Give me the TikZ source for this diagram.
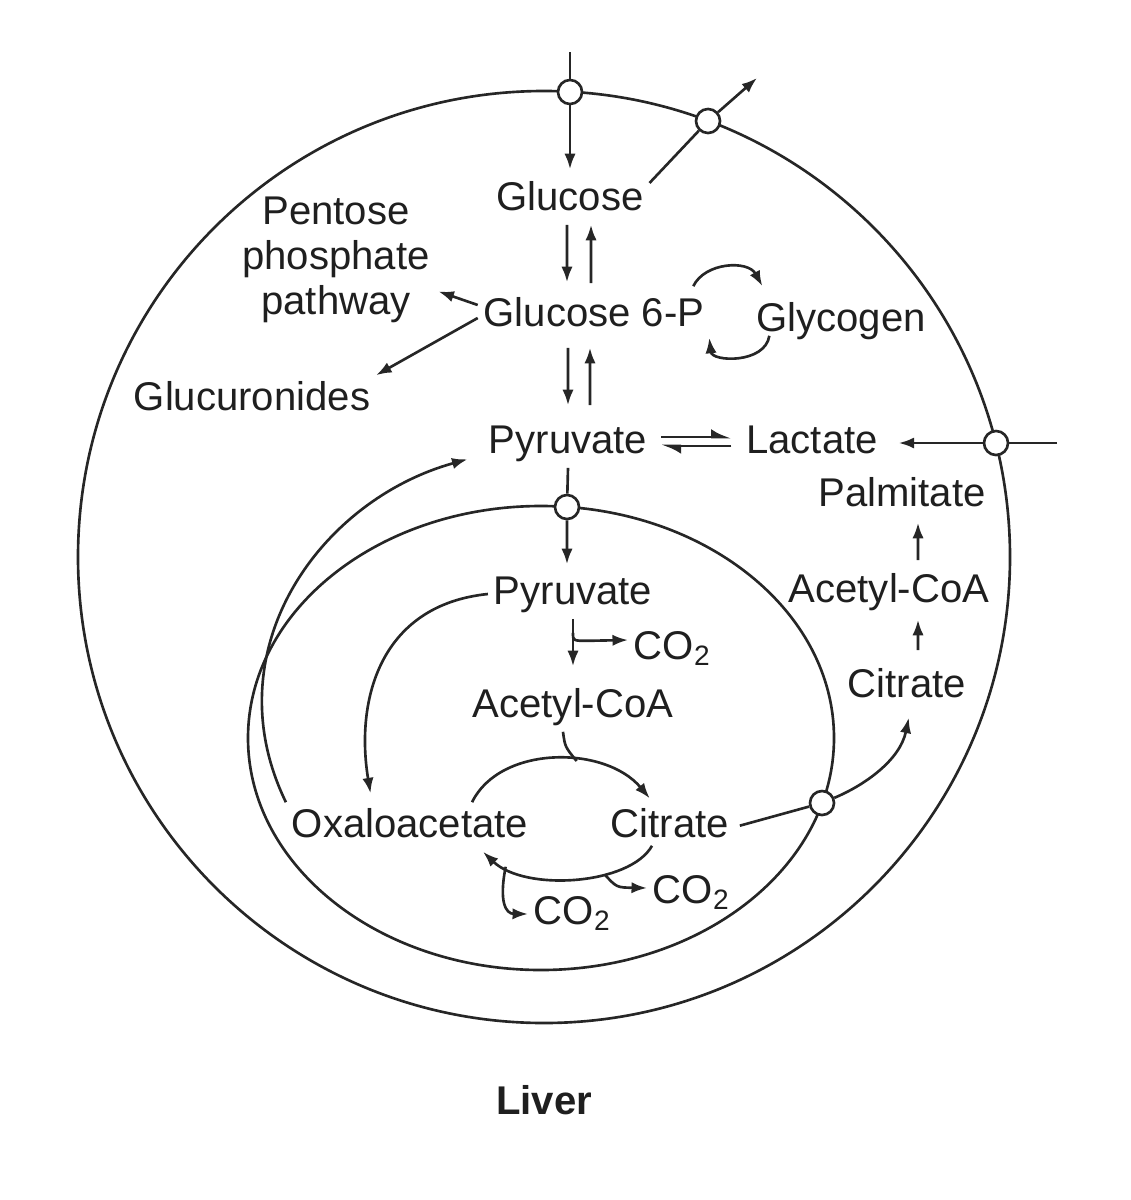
\documentclass[tikz,border=0pt]{standalone}
\usepackage{fontspec}
\setmainfont{Liberation Sans}
\usetikzlibrary{arrows.meta,positioning}
\tikzset{
    metab-text/.style = {font=\fontsize{11.4}{12.8}\selectfont, text=black!88, inner sep=1.5pt},
    metab-label/.style = {metab-text, text height=8.3pt, text depth=2.4pt},
    carrier-dot/.style = {draw=black!85, fill=white, circle, line width=0.75pt, minimum size=2.4mm, inner sep=0pt},
    membrane/.style = {draw=black!85, line width=0.75pt},
    flow-line/.style = {draw=black!85, line width=0.75pt},
    flow-arrow/.style = {flow-line, -{Latex[length=4.4pt, width=3.2pt]}},
    half-arrow/.style = {flow-line, -{Latex[harpoon, length=4.6pt, width=4.6pt]}},
}

\begin{document}
\begin{tikzpicture}[x=0.01cm, y=-0.01cm]
\useasboundingbox (0,0) rectangle (1130,1200);
\draw[membrane] (544,557) circle [radius=466];
\draw[membrane] (541,738) ellipse [x radius=293, y radius=232];

\node[carrier-dot] (pm-glc-in) at (570,92) {};
\node[carrier-dot] (pm-glc-out) at (708,121) {};
\node[carrier-dot] (pm-lac) at (996,443) {};
\node[carrier-dot] (mm-pyr) at (567,507) {};
\node[carrier-dot] (mm-cit) at (822,803) {};

\node[metab-label] (glc) at (570,200) {Glucose};
\node[metab-label] (g6p) at (594,316) {Glucose 6-P};
\node[metab-label] (glycogen) at (841,321) {Glycogen};
\node[metab-text, align=center] (ppp) at (336,260) {Pentose\\phosphate\\pathway};
\node[metab-label] (glcur) at (252,400) {Glucuronides};
\node[metab-label] (pyr-cyt) at (568,443) {Pyruvate};
\node[metab-label] (lac) at (812,443) {Lactate};
\node[metab-label] (palm) at (902,496) {Palmitate};
\node[metab-label] (acoa-cyt) at (889,592) {Acetyl-CoA};
\node[metab-label] (cit-cyt) at (907,687) {Citrate};
\node[metab-label] (pyr-mit) at (573,594) {Pyruvate};
\node[metab-label, anchor=west] (co2-pdh) at (628,649) {CO\textsubscript{2}};
\node[metab-label] (acoa-mit) at (573,707) {Acetyl-CoA};
\node[metab-label] (oaa) at (410,827) {Oxaloacetate};
\node[metab-label] (cit-mit) at (670,827) {Citrate};
\node[metab-label, anchor=west] (co2-a) at (647,893) {CO\textsubscript{2}};
\node[metab-label, anchor=west] (co2-b) at (528,914) {CO\textsubscript{2}};
\node[metab-label, font=\fontsize{11.4}{12.8}\selectfont\bfseries] (liver) at (544,1104) {Liver};

\coordinate (glc-in) at (570,52);
\coordinate (glc-out) at (757,78);
\coordinate (lac-in) at (1057,443);
\draw[flow-line] (glc-in) -- (pm-glc-in);
\draw[flow-arrow, shorten >=0.06cm] (pm-glc-in) -- (glc.north);
\draw[flow-line] ([yshift=0.17cm]glc.east) -- (pm-glc-out);
\draw[flow-arrow] (pm-glc-out) -- (glc-out);

\draw[flow-arrow, shorten >=0.09cm] ([xshift=-0.03cm]glc.south) -- ([xshift=-0.27cm]g6p.north);
\draw[flow-arrow, shorten <=0.08cm] ([xshift=-0.03cm]g6p.north) -- ([xshift=0.21cm]glc.south);
\draw[flow-arrow, shorten <=0.07cm, shorten >=0.13cm] ([xshift=-0.26cm]g6p.south) -- (pyr-cyt.north);
\draw[flow-arrow, shorten <=0.13cm, shorten >=0.07cm] ([xshift=0.22cm]pyr-cyt.north) -- ([xshift=-0.04cm]g6p.south);

\draw[flow-arrow, shorten >=0.03cm] ([yshift=0.11cm]g6p.west) -- (ppp.343);
\draw[flow-arrow] ([yshift=-0.02cm]g6p.west) -- (glcur.north east);

\draw[flow-arrow] ([xshift=-0.17cm, yshift=0.05cm]g6p.north east) .. controls (705,262) and (748,260) .. ([xshift=0.12cm, yshift=0.1cm]glycogen.north west);
\draw[flow-arrow] ([xshift=0.19cm, yshift=0.1cm]glycogen.south west) .. controls (765,364) and (712,362) .. ([xshift=-0.01cm, yshift=0.03cm]g6p.south east);

\draw[half-arrow, shorten <=0.08cm, shorten >=0.09cm] ([yshift=0.06cm]pyr-cyt.east) -- ([yshift=0.06cm]lac.west);
\draw[half-arrow, shorten <=0.09cm, shorten >=0.08cm] ([yshift=-0.03cm]lac.west) -- ([yshift=-0.03cm]pyr-cyt.east);

\draw[flow-line] (lac-in) -- (pm-lac);
\draw[flow-arrow, shorten >=0.15cm] (pm-lac) -- (lac.east);

\draw[flow-arrow, shorten <=0.07cm, shorten >=0.02cm] ([xshift=0.29cm]acoa-cyt.north) -- ([xshift=0.16cm]palm.south);
\draw[flow-arrow, shorten <=0.12cm, shorten >=0.03cm] ([xshift=0.11cm]cit-cyt.north) -- ([xshift=0.29cm]acoa-cyt.south);

\draw[flow-line, shorten <=0.05cm] (cit-mit.east) -- (mm-cit);
\draw[flow-arrow, shorten >=0.06cm] (mm-cit) .. controls (865,785) and (900,760) .. ([xshift=0.03cm]cit-cyt.south);

\draw[flow-line] (pyr-cyt.south) -- (mm-pyr);
\draw[flow-arrow, shorten >=0.05cm] (mm-pyr) -- ([xshift=-0.06cm]pyr-mit.north);

\draw[flow-arrow, shorten >=0.16cm] (pyr-mit.south) -- (acoa-mit.north);
\coordinate (pdh) at ([yshift=-0.14cm]pyr-mit.south);
\draw[flow-arrow] (pdh) .. controls ([yshift=-0.08cm]pdh) .. ([xshift=0.15cm, yshift=-0.08cm]pdh) -- ([yshift=0.09cm]co2-pdh.west);

\draw[flow-arrow, shorten >=0.05cm] ([xshift=0.62cm]oaa.north) .. controls (500,745) and (605,745) .. ([xshift=-0.17cm]cit-mit.north) coordinate[pos=0.6] (tca-in);
\draw[flow-line] ([xshift=-0.1cm]acoa-mit.south) .. controls ([xshift=-0.08cm, yshift=-0.15cm]acoa-mit.south) .. (tca-in);
\draw[flow-arrow] ([xshift=-0.18cm, yshift=0.06cm]cit-mit.south) .. controls (630,885) and (525,892) .. ([xshift=0.73cm]oaa.south) coordinate[pos=0.35] (tca-co2a) coordinate[pos=0.85] (tca-co2b);
\draw[flow-arrow] (tca-co2a) .. controls ([xshift=0.12cm, yshift=-0.13cm]tca-co2a) .. ([yshift=0.05cm]co2-a.west);
\draw[flow-arrow] (tca-co2b) .. controls ([xshift=-0.07cm, yshift=-0.35cm]tca-co2b) and ([yshift=-0.47cm]tca-co2b) .. (co2-b.west);

\draw[flow-arrow, shorten >=0.16cm] (oaa.north west) .. controls (212,650) and (320,500) .. ([yshift=-0.12cm]pyr-cyt.west);
\draw[flow-arrow, shorten >=0.09cm] (pyr-mit.west) .. controls (380,605) and (355,700) .. ([xshift=-0.38cm]oaa.north);
\end{tikzpicture}
\end{document}
